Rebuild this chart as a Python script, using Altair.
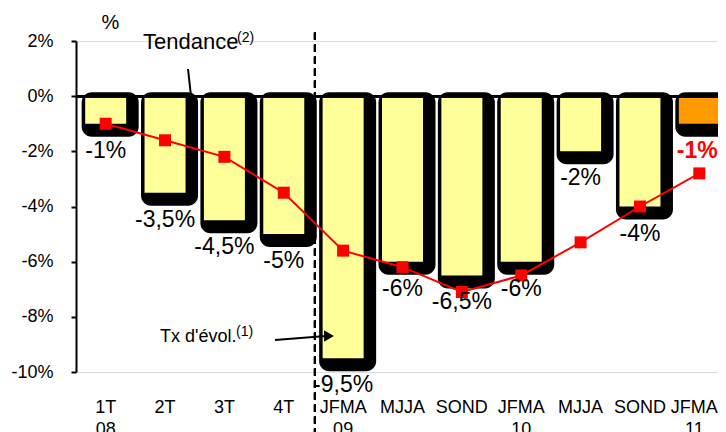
import altair as alt
import pandas as pd

periods = ["1T|08", "2T|08", "3T|08", "4T|08", "JFMA|09", "MJJA|09", "SOND|09",
           "JFMA|10", "MJJA|10", "SOND|10", "JFMA|11"]
evolution = [-1.0, -3.5, -4.5, -5.0, -9.5, -6.0, -6.5, -6.0, -2.0, -4.0, -1.0]
tendance = [-1.0, -1.6, -2.2, -3.5, -5.6, -6.2, -7.1, -6.5, -5.3, -4.0, -2.8]
value_labels = ["-1%", "-3,5%", "-4,5%", "-5%", "-9,5%", "-6%", "-6,5%", "-6%",
                "-2%", "-4%", "-1%"]
y_ticks = [2, 0, -2, -4, -6, -8, -10]

df = pd.DataFrame({
    "periode": periods,
    "evolution": evolution,
    "tendance": tendance,
    "label": value_labels,
})
df["dernier"] = ["non"] * (len(periods) - 1) + ["oui"]

FONT = "Liberation Sans"

x_enc = alt.X(
    "periode:N", sort=periods,
    scale=alt.Scale(range=[0, 653], paddingInner=0, paddingOuter=0),
    axis=alt.Axis(
        title=None, orient="bottom", ticks=False, domain=False,
        labelAngle=0, labelFontSize=18, labelFont=FONT, labelColor="black",
        labelPadding=26, labelLineHeight=22, labelBaseline="top",
        labelOffset={"condition": {"test": "datum.value == 'JFMA|11'", "value": -5},
                     "value": 0},
        labelExpr="(split(datum.label,'|')[0]=='JFMA' || split(datum.label,'|')[0]=='1T') ? split(datum.label,'|') : split(datum.label,'|')[0]",
    ),
)
y_scale = alt.Scale(domain=[-10, 2], nice=False, zero=False)
y_enc = alt.Y(
    "evolution:Q", scale=y_scale,
    axis=alt.Axis(
        values=y_ticks, grid=False, title="%", titleAngle=0, titleX=34, titleY=-19,
        titleFontSize=20, titleFontWeight="normal", titleFont=FONT,
        titleAlign="center", titleBaseline="middle", titleColor="black",
        labelExpr="datum.value + '%'", labelFontSize=18, labelFont=FONT,
        labelColor="black", labelPadding=18, tickSize=5, tickWidth=2,
        tickColor="black", domainColor="black", domainWidth=2,
    ),
)

base = alt.Chart(df)

shadow = base.mark_bar(
    color="black", size=57, xOffset=4.5, yOffset=13, y2Offset=-4, cornerRadius=10
).encode(x=x_enc, y=y_enc, y2=alt.datum(0))

bars = base.mark_bar(size=41).encode(
    x=x_enc, y=y_enc, y2=alt.datum(0),
    color=alt.Color("dernier:N", scale=alt.Scale(domain=["non", "oui"],
                                                  range=["#FFFF99", "#FF9900"]),
                    legend=None),
)

zero_rule = base.mark_rule(color="black", strokeWidth=2).encode(
    y=alt.Y(datum=0, scale=y_scale)
)

dashed = base.mark_rule(color="black", strokeWidth=2, strokeDash=[7, 5], xOffset=1.5).encode(
    x=alt.X(datum="JFMA|09", bandPosition=0),
    y=alt.Y(datum=2.3),
    y2=alt.datum(-12.3),
)

trend_line = base.mark_line(color="#FF0000", strokeWidth=2).encode(
    x=x_enc, y=alt.Y("tendance:Q", scale=y_scale)
)
trend_pts = base.mark_point(shape="square", filled=True, size=144, color="#FF0000",
                            opacity=1).encode(
    x=x_enc, y=alt.Y("tendance:Q", scale=y_scale)
)

labels_normal = base.transform_filter("datum.dernier == 'non'").mark_text(
    baseline="top", dy=16, fontSize=23, font=FONT, color="black"
).encode(x=x_enc, y=alt.Y("evolution:Q", scale=y_scale), text="label:N")

labels_last = base.transform_filter("datum.dernier == 'oui'").mark_text(
    baseline="top", dy=16, dx=-2, fontSize=23, font=FONT, color="#FF0000", fontWeight="bold"
).encode(x=x_enc, y=alt.Y("evolution:Q", scale=y_scale), text="label:N")

ann = alt.Chart(pd.DataFrame({"a": [0]}))
t1 = ann.mark_text(align="left", baseline="middle", fontSize=22, font=FONT, color="black",
                   text="Tendance").encode(x=alt.value(67), y=alt.value(1))
t1s = ann.mark_text(align="left", baseline="middle", fontSize=14, font=FONT, color="black",
                    text="(2)").encode(x=alt.value(161), y=alt.value(-3))
t1line = ann.mark_rule(color="black", strokeWidth=2).encode(
    x=alt.value(112), x2=alt.value(115), y=alt.value(28), y2=alt.value(55))
t2 = ann.mark_text(align="left", baseline="middle", fontSize=18, font=FONT, color="black",
                   text="Tx d'évol.").encode(x=alt.value(84), y=alt.value(296))
t2s = ann.mark_text(align="left", baseline="middle", fontSize=14, font=FONT, color="black",
                    text="(1)").encode(x=alt.value(160), y=alt.value(291))
t2line = ann.mark_rule(color="black", strokeWidth=2).encode(
    x=alt.value(199), x2=alt.value(250), y=alt.value(299), y2=alt.value(295))
t2head = ann.mark_point(shape="triangle-right", filled=True, size=130, color="black",
                        opacity=1).encode(x=alt.value(253), y=alt.value(295))

chart = alt.layer(
    shadow, bars, zero_rule, dashed, trend_line, trend_pts, labels_normal, labels_last,
    t1, t1s, t1line, t2, t2s, t2line, t2head,
).properties(
    width=642, height=331,
    autosize=alt.AutoSizeParams(type="none"),
    padding={"left": 68, "top": 33, "right": 0, "bottom": 60},
).configure_view(stroke=None).configure(background="white")

chart.save("out.html", embed_options={"renderer": "svg", "actions": False})
